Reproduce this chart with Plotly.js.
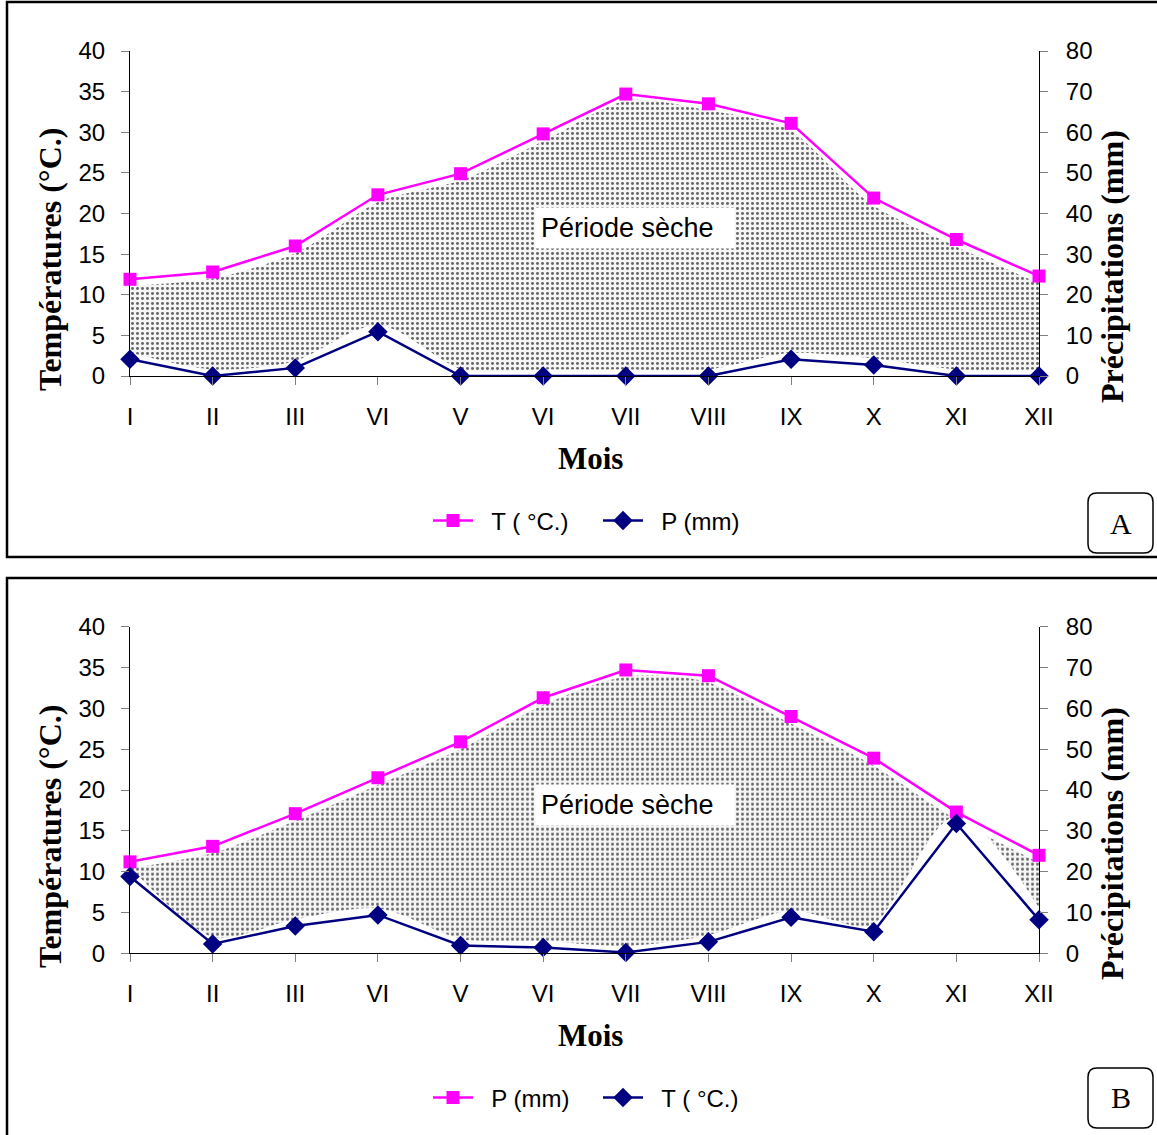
<!DOCTYPE html>
<html><head><meta charset="utf-8">
<script src="https://cdn.plot.ly/plotly-3.0.1.min.js"></script>
<style>html,body{margin:0;padding:0;background:#fff}#chart{width:1157px;height:1135px}</style>
</head><body><div id="chart"></div>
<script>
// ---- data ----
const monthLabels = ['I','II','III','VI','V','VI','VII','VIII','IX','X','XI','XII'];
const monthIndex = [0,1,2,3,4,5,6,7,8,9,10,11];
// Panel A
const aTemp = [11.9, 12.8, 16.0, 22.3, 24.9, 29.8, 34.7, 33.5, 31.1, 21.9, 16.8, 12.3]; // °C, left axis
const aPrec = [4.1, 0, 2.0, 10.9, 0, 0, 0, 0, 4.1, 2.7, 0, 0]; // mm, right axis
// Panel B (legend labels as in the picture)
const bMagenta = [11.2, 13.1, 17.1, 21.5, 25.9, 31.3, 34.7, 34.0, 29.0, 23.9, 17.3, 12.0]; // left axis
const bNavy = [18.8, 2.3, 6.7, 9.4, 1.9, 1.4, 0.2, 2.8, 8.8, 5.3, 31.8, 8.2]; // right axis
const legendA = ['T ( °C.)', 'P (mm)'];
const legendB = ['P (mm)', 'T ( °C.)'];
const leftTicks = [0,5,10,15,20,25,30,35,40];
const rightTicks = [0,10,20,30,40,50,60,70,80];

// ---- layout helpers ----
const W = 1157, H = 1135;
const X = p => p / W;
const Y = p => 1 - p / H;
const SANS = 'Liberation Sans, Arial, sans-serif';
const SERIF = 'Liberation Serif, Times New Roman, serif';
const MAG = '#FF00FF', NAVY = '#000080';
const NB = '\u00a0';

function roundRect(x0, y0, x1, y1, r) {
  const a = (x, y) => X(x) + ',' + Y(y);
  return 'M' + a(x0 + r, y0) + ' L' + a(x1 - r, y0) + ' Q' + a(x1, y0) + ' ' + a(x1, y0 + r) +
    ' L' + a(x1, y1 - r) + ' Q' + a(x1, y1) + ' ' + a(x1 - r, y1) +
    ' L' + a(x0 + r, y1) + ' Q' + a(x0, y1) + ' ' + a(x0, y1 - r) +
    ' L' + a(x0, y0 + r) + ' Q' + a(x0, y0) + ' ' + a(x0 + r, y0) + ' Z';
}

const pattern = {shape: '.', fgcolor: '#666666', bgcolor: '#f5f5f5', size: 5, solidity: 0.28};
const half = arr => arr.map(v => v / 2);

function fillPair(xa, ya, upper, lower) {
  return [
    {x: monthIndex, y: lower, xaxis: xa, yaxis: ya, mode: 'lines', line: {color: '#ffffff', width: 13, shape: 'spline', smoothing: 0.8}, showlegend: false, hoverinfo: 'skip'},
    {x: monthIndex, y: upper, xaxis: xa, yaxis: ya, mode: 'lines', fill: 'tonexty', fillpattern: pattern, fillcolor: '#f5f5f5', line: {color: '#ffffff', width: 13, shape: 'spline', smoothing: 0.8}, showlegend: false, hoverinfo: 'skip'}
  ];
}
function series(xa, ya, y, name, color, symbol, size, legend) {
  return {x: monthIndex, y: y, xaxis: xa, yaxis: ya, name: NB + NB + name, legend: legend, mode: 'lines+markers', cliponaxis: false,
    line: {color: color, width: 2.5}, marker: {color: color, symbol: symbol, size: size}};
}

const data = [
  ...fillPair('x', 'y', aTemp, half(aPrec)),
  series('x', 'y', aTemp, legendA[0], MAG, 'square', 13, 'legend'),
  series('x', 'y2', aPrec, legendA[1], NAVY, 'diamond', 15, 'legend'),
  ...fillPair('x2', 'y3', bMagenta, half(bNavy)),
  series('x2', 'y3', bMagenta, legendB[0], MAG, 'square', 13, 'legend2'),
  series('x2', 'y4', bNavy, legendB[1], NAVY, 'diamond', 15, 'legend2')
];

const tickFont = {family: SANS, size: 24, color: '#000'};
function xAxis(anchor) {
  return {domain: [X(130), X(1039)], anchor: anchor, range: [0, 11], tickmode: 'array', tickvals: monthIndex, ticktext: monthLabels,
    showline: true, linecolor: '#000', linewidth: 1, ticks: 'outside', ticklen: 8, tickcolor: '#808080', tickfont: tickFont,
    ticklabelstandoff: 11, showgrid: false, zeroline: false, fixedrange: true};
}
function yLeft(domain, anchor) {
  return {domain: domain, anchor: anchor, range: [0, 40], tickmode: 'array', tickvals: leftTicks, showline: true, linecolor: '#000', linewidth: 1,
    ticks: 'outside', ticklen: 8, tickcolor: '#808080', tickfont: tickFont, ticklabelstandoff: 11, showgrid: false, zeroline: false};
}
function yRight(overlay, anchor) {
  return {overlaying: overlay, anchor: anchor, side: 'right', range: [0, 80], tickmode: 'array', tickvals: rightTicks, showline: true, linecolor: '#000', linewidth: 1,
    ticks: 'outside', ticklen: 8, tickcolor: '#808080', tickfont: tickFont, ticklabelstandoff: 13, showgrid: false, zeroline: false};
}

const domA = [Y(376), Y(51)];
const domB = [Y(953.3), Y(626.7)];

function titles(offset) {
  return [
    {text: '<b>Températures (°C.)</b>', xref: 'paper', yref: 'paper', x: X(50), y: Y(260 + offset), textangle: -90, showarrow: false, font: {family: SERIF, size: 32, color: '#000'}, xanchor: 'center', yanchor: 'middle'},
    {text: '<b>Précipitations (mm)</b>', xref: 'paper', yref: 'paper', x: X(1112), y: Y(267 + offset), textangle: -90, showarrow: false, font: {family: SERIF, size: 32, color: '#000'}, xanchor: 'center', yanchor: 'middle'},
    {text: '<b>Mois</b>', xref: 'paper', yref: 'paper', x: X(590), y: Y(458 + offset), showarrow: false, font: {family: SERIF, size: 31, color: '#000'}, xanchor: 'center', yanchor: 'middle'},
    {text: 'Période sèche' + NB + NB, xref: 'paper', yref: 'paper', x: X(635), y: Y(228 + offset), showarrow: false, font: {family: SANS, size: 27, color: '#000'}, bgcolor: '#ffffff', borderpad: 5, xanchor: 'center', yanchor: 'middle'}
  ];
}

const legendCommon = {orientation: 'h', xanchor: 'left', yanchor: 'middle', traceorder: 'normal', font: {family: SANS, size: 24, color: '#000'},
  itemwidth: 40, entrywidth: 115, entrywidthmode: 'pixels', bgcolor: 'rgba(0,0,0,0)'};

const layout = {
  width: W, height: H, margin: {l: 0, r: 0, t: 0, b: 0}, paper_bgcolor: '#fff', plot_bgcolor: 'rgba(0,0,0,0)',
  xaxis: xAxis('y'), yaxis: yLeft(domA, 'x'), yaxis2: yRight('y', 'x'),
  xaxis2: xAxis('y3'), yaxis3: yLeft(domB, 'x2'), yaxis4: yRight('y3', 'x2'),
  legend: Object.assign({x: X(428), y: Y(521)}, legendCommon),
  legend2: Object.assign({x: X(428), y: Y(1098)}, legendCommon),
  annotations: [
    ...titles(0), ...titles(577),
    {text: 'A', xref: 'paper', yref: 'paper', x: X(1120.5), y: Y(523), xanchor: 'center', yanchor: 'middle', showarrow: false, font: {family: SERIF, size: 30, color: '#000'}},
    {text: 'B', xref: 'paper', yref: 'paper', x: X(1120.5), y: Y(1097), xanchor: 'center', yanchor: 'middle', showarrow: false, font: {family: SERIF, size: 30, color: '#000'}}
  ],
  shapes: [
    {type: 'rect', xref: 'paper', yref: 'paper', x0: X(7), x1: X(1170), y0: Y(557), y1: Y(2), line: {color: '#000', width: 2.5}},
    {type: 'rect', xref: 'paper', yref: 'paper', x0: X(7), x1: X(1170), y0: Y(1150), y1: Y(578), line: {color: '#000', width: 2.5}},
    {type: 'path', xref: 'paper', yref: 'paper', path: roundRect(1088, 493, 1153, 553, 9), line: {color: '#000', width: 1.5}},
    {type: 'path', xref: 'paper', yref: 'paper', path: roundRect(1088, 1068, 1153, 1128, 9), line: {color: '#000', width: 1.5}}
  ]
};

Plotly.newPlot('chart', data, layout, {displayModeBar: false, staticPlot: true});
</script>
</body></html>
